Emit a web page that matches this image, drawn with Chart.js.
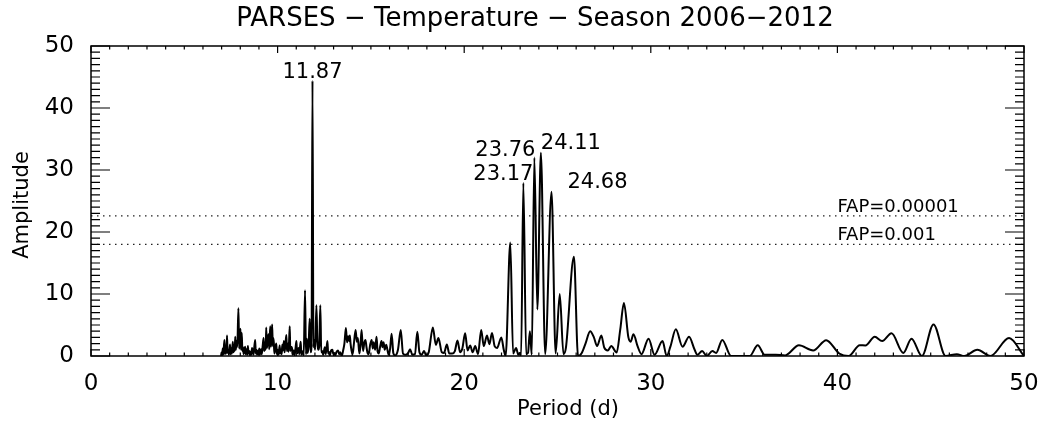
<!DOCTYPE html>
<html>
<head>
<meta charset="utf-8">
<script src="https://cdn.jsdelivr.net/npm/chart.js@4.4.1/dist/chart.umd.min.js"></script>
<style>
  body { margin: 0; background: #fff; }
  #wrap { width: 1049px; height: 432px; }
</style>
</head>
<body>
<div id="wrap"><canvas id="periodogram"></canvas></div>
<script>
// periodogram of the temperature series, period in days
var period = [
  6.97, 7.00, 7.03, 7.06, 7.09, 7.15, 7.18, 7.22, 7.25, 7.29, 7.32, 7.36, 7.39, 7.45, 7.48, 7.52,
  7.55, 7.60, 7.63, 7.67, 7.70, 7.73, 7.76, 7.80, 7.84, 7.90, 7.94, 7.98, 8.01, 8.04, 8.08, 8.11,
  8.15, 8.18, 8.22, 8.26, 8.29, 8.33, 8.37, 8.41, 8.44, 8.49, 8.52, 8.55, 8.59, 8.63, 8.67, 8.71,
  8.75, 8.80, 8.83, 8.87, 8.90, 8.94, 8.97, 9.02, 9.05, 9.09, 9.12, 9.15, 9.20, 9.25, 9.28, 9.33,
  9.36, 9.39, 9.43, 9.47, 9.52, 9.55, 9.58, 9.61, 9.64, 9.67, 9.71, 9.74, 9.77, 9.80, 9.83, 9.88,
  9.93, 9.96, 10.00, 10.05, 10.11, 10.14, 10.19, 10.22, 10.25, 10.28, 10.34, 10.37, 10.42, 10.47, 10.50, 10.56,
  10.59, 10.65, 10.68, 10.72, 10.77, 10.80, 10.84, 10.88, 10.91, 10.96, 11.01, 11.04, 11.09, 11.13, 11.16, 11.20,
  11.24, 11.27, 11.32, 11.36, 11.40, 11.47, 11.52, 11.57, 11.60, 11.66, 11.72, 11.77, 11.82, 11.87, 11.92, 11.97,
  12.01, 12.08, 12.13, 12.18, 12.23, 12.29, 12.34, 12.39, 12.44, 12.53, 12.58, 12.67, 12.71, 12.75, 12.80, 12.87,
  12.94, 12.98, 13.04, 13.09, 13.15, 13.24, 13.30, 13.36, 13.44, 13.52, 13.58, 13.66, 13.72, 13.78, 13.83, 13.87,
  13.91, 13.96, 14.02, 14.08, 14.18, 14.25, 14.30, 14.38, 14.44, 14.50, 14.58, 14.65, 14.71, 14.76, 14.82, 14.88,
  14.96, 15.04, 15.10, 15.15, 15.23, 15.30, 15.36, 15.42, 15.50, 15.57, 15.62, 15.68, 15.74, 15.82, 15.88, 15.95,
  16.03, 16.11, 16.20, 16.30, 16.45, 16.60, 16.72, 16.88, 17.00, 17.10, 17.22, 17.36, 17.49, 17.60, 17.72, 17.85,
  17.96, 18.10, 18.32, 18.48, 18.62, 18.80, 18.92, 19.07, 19.20, 19.35, 19.50, 19.64, 19.78, 19.90, 20.05, 20.18,
  20.32, 20.45, 20.59, 20.74, 20.91, 21.05, 21.22, 21.35, 21.49, 21.63, 21.76, 21.99, 22.12, 22.22, 22.47, 22.62,
  22.78, 22.90, 22.98, 23.05, 23.17, 23.32, 23.42, 23.52, 23.62, 23.76, 23.92, 24.11, 24.34, 24.68, 24.90, 25.12,
  25.32, 25.45, 25.88, 26.10, 26.30, 26.50, 26.75, 26.95, 27.12, 27.35, 27.50, 27.70, 27.88, 28.17, 28.36, 28.56,
  28.80, 28.92, 29.07, 29.30, 29.50, 29.88, 30.20, 30.63, 30.85, 31.05, 31.34, 31.70, 32.05, 32.35, 32.50, 32.75,
  33.00, 33.30, 33.50, 33.83, 34.30, 34.80, 35.30, 35.73, 36.10, 36.70, 37.20, 37.94, 38.70, 39.40, 40.10, 40.60,
  41.20, 41.50, 42.00, 42.40, 42.90, 43.53, 43.97, 44.53, 45.15, 45.80, 46.40, 46.80, 47.50, 48.20, 49.20, 50.00
];
var amplitude = [
  0.0, 0.6, 0.1, 1.2, 0.2, 2.6, 0.3, 1.5, 0.4, 3.3, 0.5, 1.0, 0.2, 1.85, 0.3, 1.2,
  0.4, 2.3, 0.6, 1.4, 0.8, 3.1, 1.0, 2.4, 1.5, 7.7, 1.2, 3.0, 4.4, 1.0, 3.7, 0.8,
  1.4, 0.3, 0.9, 1.5, 0.3, 1.1, 0.2, 1.6, 0.4, 0.8, 0.1, 0.7, 0.2, 1.3, 0.9, 0.2,
  1.4, 2.6, 0.4, 1.0, 0.2, 0.8, 0.3, 1.2, 0.2, 0.9, 1.1, 0.3, 1.6, 2.9, 0.8, 2.2,
  1.0, 4.6, 1.3, 2.7, 3.5, 1.1, 3.0, 4.8, 1.5, 2.6, 5.1, 1.6, 2.9, 2.0, 0.4, 1.3,
  2.0, 0.3, 1.0, 0.2, 1.7, 0.4, 1.1, 0.3, 1.8, 0.9, 2.4, 0.6, 1.9, 3.4, 0.8, 2.0,
  0.7, 4.8, 0.8, 1.5, 1.3, 0.2, 0.9, 0.8, 0.1, 1.2, 2.4, 0.4, 1.0, 1.3, 0.3, 1.4,
  2.3, 0.2, 0.6, 0.8, 0.1, 10.6, 0.3, 2.8, 0.5, 1.5, 6.0, 0.6, 2.0, 44.4, 1.4, 2.5,
  1.0, 8.2, 2.3, 1.0, 1.6, 8.2, 0.6, 0.8, 0.2, 1.4, 0.3, 2.4, 0.4, 0.7, 0.1, 0.9,
  1.0, 0.3, 0.5, 0.1, 0.6, 0.9, 0.3, 0.6, 0.0, 1.0, 2.0, 4.5, 2.2, 3.2, 2.4, 3.3,
  2.0, 0.9, 0.3, 1.7, 4.2, 2.3, 2.9, 0.4, 1.6, 4.2, 0.8, 2.2, 2.6, 1.5, 0.5, 0.3,
  1.8, 2.6, 1.2, 2.2, 1.0, 3.1, 0.7, 0.4, 1.6, 2.4, 1.4, 2.2, 1.0, 1.8, 1.1, 0.2,
  1.2, 3.6, 0.5, 0.1, 1.0, 4.2, 0.4, 0.2, 0.5, 1.1, 0.2, 0.3, 3.9, 0.6, 0.2, 0.8,
  0.1, 0.6, 4.6, 1.8, 2.9, 0.6, 0.5, 1.85, 0.4, 0.4, 0.8, 2.5, 0.6, 1.2, 3.65, 0.9,
  1.7, 0.6, 1.6, 0.3, 4.2, 1.6, 3.3, 1.9, 3.7, 1.6, 1.3, 3.0, 1.0, 0.0, 18.3, 0.4,
  1.3, 0.2, 0.5, 0.1, 27.9, 0.3, 0.5, 4.0, 0.2, 32.0, 7.5, 32.8, 0.3, 26.5, 0.4, 10.0,
  0.3, 1.3, 16.0, 0.0, 0.5, 2.0, 4.0, 3.0, 1.6, 3.3, 1.4, 0.9, 1.6, 0.55, 4.2, 8.55,
  3.0, 2.3, 3.5, 1.5, 0.3, 2.8, 0.2, 2.4, 0.0, 1.5, 4.3, 1.5, 3.1, 1.0, 0.2, 0.8,
  0.0, 0.8, 0.5, 2.6, 0.0, 0.0, 0.0, 1.74, 0.2, 0.2, 0.1, 1.74, 0.9, 2.56, 0.4, 0.0,
  1.74, 1.7, 3.1, 2.4, 3.65, 0.5, 2.8, 0.0, 5.1, 0.0, 0.3, 0.0, 1.0, 0.0, 2.9, 0.0
];

// false alarm probability levels
var fapLevel = [22.6, 18.0];
var fapText = ['FAP=0.00001', 'FAP=0.001'];
var fapTextAt = 40;

// peaks that get their period written next to them
var peakPeriods = [11.87, 23.17, 23.76, 24.11, 24.68];

var xTickValues = [0, 10, 20, 30, 40, 50];
var yTickValues = [0, 10, 20, 30, 40, 50];

var titleText = 'PARSES \u2212 Temperature \u2212 Season 2006\u22122012';
var xTitle = 'Period (d)';
var yTitle = 'Amplitude';

// where each peak label sits relative to its peak (px)
var peakLabelShift = [[0, -3], [-20, -3], [-29, -2], [30, -4], [46, -4]];

var FONT = "'DejaVu Sans', sans-serif";

var curve = period.map(function (p, i) { return { x: p, y: amplitude[i] }; });

var datasets = [{
  data: curve,
  borderColor: '#000',
  borderWidth: 2,
  pointRadius: 0,
  cubicInterpolationMode: 'monotone',
  fill: false
}];
fapLevel.forEach(function (lv) {
  datasets.push({
    data: [{ x: 0, y: lv }, { x: 50, y: lv }],
    borderColor: '#222',
    borderWidth: 1.3,
    borderDash: [1.5, 4.5],
    pointRadius: 0,
    fill: false
  });
});

// IDL style box: frame plus inward major/minor ticks on every side
var boxTicks = {
  id: 'boxTicks',
  afterDatasetsDraw: function (chart) {
    var ctx = chart.ctx, a = chart.chartArea;
    var xs = chart.scales.x, ys = chart.scales.y;
    ctx.save();
    ctx.strokeStyle = '#000';
    ctx.lineWidth = 1.5;
    ctx.strokeRect(a.left, a.top, a.right - a.left, a.bottom - a.top);
    ctx.lineWidth = 1.2;
    ctx.beginPath();
    for (var v = 0; v <= 50; v++) {
      var len = (v % 10 === 0) ? 7 : 3.5;
      var px = xs.getPixelForValue(v);
      ctx.moveTo(px, a.bottom); ctx.lineTo(px, a.bottom - len);
      ctx.moveTo(px, a.top); ctx.lineTo(px, a.top + len);
      var ylen = (v % 10 === 0) ? 19 : 9;
      var py = ys.getPixelForValue(v);
      ctx.moveTo(a.left, py); ctx.lineTo(a.left + ylen, py);
      ctx.moveTo(a.right, py); ctx.lineTo(a.right - ylen, py);
    }
    ctx.stroke();

    // text next to peaks and FAP lines
    ctx.fillStyle = '#000';
    ctx.font = '21px ' + FONT;
    ctx.textAlign = 'center';
    ctx.textBaseline = 'alphabetic';
    peakPeriods.forEach(function (p, i) {
      var amp = amplitude[period.indexOf(p)];
      var s = peakLabelShift[i];
      ctx.fillText(p.toFixed(2), xs.getPixelForValue(p) + s[0], ys.getPixelForValue(amp) + s[1]);
    });
    ctx.font = '18px ' + FONT;
    ctx.textAlign = 'left';
    fapLevel.forEach(function (lv, i) {
      ctx.fillText(fapText[i], xs.getPixelForValue(fapTextAt), ys.getPixelForValue(lv) - 4);
    });

    // chart and axis titles
    ctx.textAlign = 'center';
    ctx.textBaseline = 'middle';
    ctx.font = '26px ' + FONT;
    ctx.fillText(titleText, 535, 19);
    ctx.font = '21px ' + FONT;
    ctx.fillText(xTitle, 568, 410);
    ctx.translate(23, 205);
    ctx.rotate(-Math.PI / 2);
    ctx.fillText(yTitle, 0, 0);
    ctx.restore();
  }
};

new Chart(document.getElementById('periodogram'), {
  type: 'line',
  data: { datasets: datasets },
  plugins: [boxTicks],
  options: {
    responsive: true,
    maintainAspectRatio: false,
    animation: false,
    layout: { padding: { top: 46, right: 25 } },
    plugins: {
      legend: { display: false },
      tooltip: { enabled: false },
      title: { display: false }
    },
    scales: {
      x: {
        type: 'linear',
        min: 0,
        max: 50,
        afterBuildTicks: function (s) { s.ticks = xTickValues.map(function (v) { return { value: v }; }); },
        afterFit: function (s) { s.height = 76; },
        grid: { display: false },
        border: { display: false },
        ticks: { color: '#000', font: { family: FONT, size: 23 }, padding: 6, maxRotation: 0 }
      },
      y: {
        type: 'linear',
        min: 0,
        max: 50,
        afterBuildTicks: function (s) { s.ticks = yTickValues.map(function (v) { return { value: v }; }); },
        afterFit: function (s) { s.width = 91; },
        grid: { display: false },
        border: { display: false },
        ticks: { color: '#000', font: { family: FONT, size: 23 }, padding: 9 }
      }
    }
  }
});
</script>
</body>
</html>
